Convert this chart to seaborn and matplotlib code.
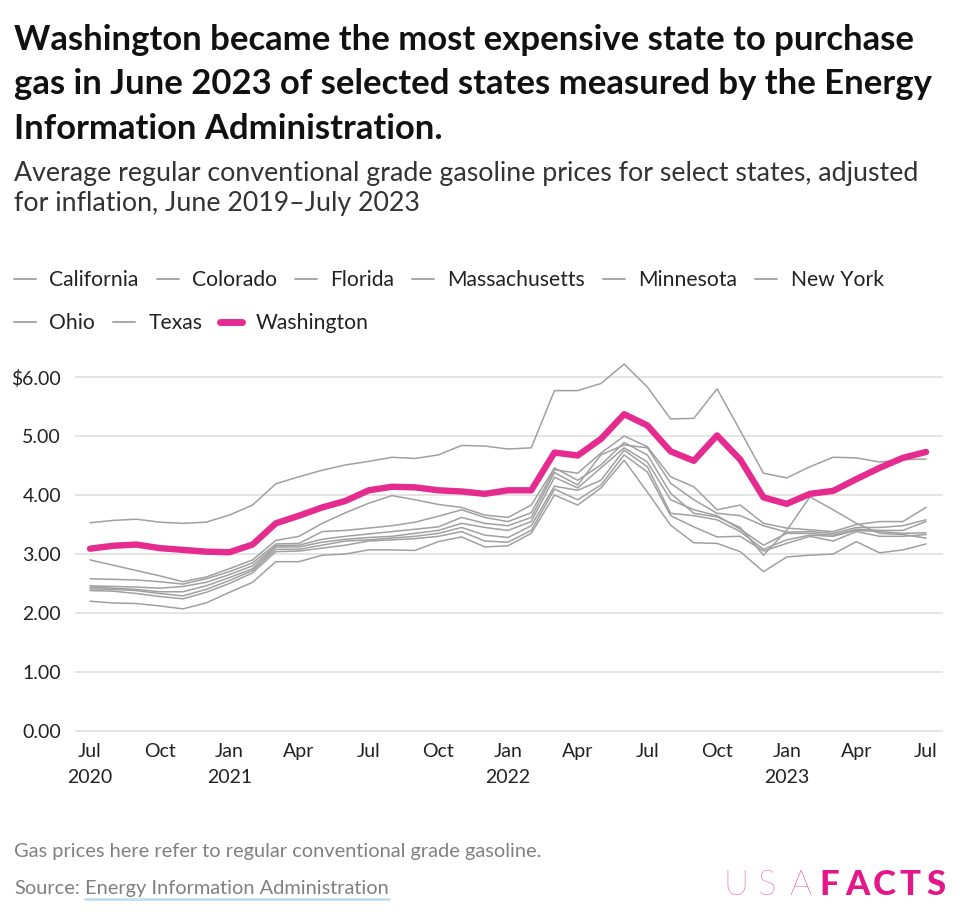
""" Gas prices by state, Washington highlighted """

import pandas as pd
import matplotlib
matplotlib.use("Agg")
import matplotlib.pyplot as plt
from matplotlib.lines import Line2D
import seaborn as sns

# Monthly prices, Jul 2020 - Jul 2023 (inflation adjusted, $/gal)
months = pd.date_range("2020-07-01", periods=37, freq="MS")

california = [3.53, 3.57, 3.59, 3.54, 3.52, 3.54,
              3.66, 3.83, 4.19, 4.31, 4.42, 4.51, 4.57, 4.64, 4.62, 4.68, 4.84, 4.83,
              4.78, 4.80, 5.77, 5.77, 5.89, 6.22, 5.83, 5.29, 5.30, 5.80, 5.09, 4.37,
              4.29, 4.48, 4.64, 4.63, 4.56, 4.60, 4.61]
colorado = [2.90, 2.81, 2.72, 2.63, 2.53, 2.61,
            2.75, 2.90, 3.23, 3.30, 3.52, 3.70, 3.86, 3.99, 3.92, 3.84, 3.79, 3.66,
            3.62, 3.83, 4.46, 4.25, 4.51, 4.89, 4.68, 4.03, 3.69, 3.63, 3.45, 2.98,
            3.40, 3.97, 3.75, 3.52, 3.35, 3.33, 3.27]
florida = [2.44, 2.42, 2.40, 2.36, 2.36, 2.46,
           2.60, 2.75, 3.12, 3.12, 3.20, 3.25, 3.28, 3.30, 3.35, 3.40, 3.52, 3.45,
           3.40, 3.55, 4.30, 4.12, 4.46, 4.80, 4.56, 3.92, 3.75, 3.65, 3.42, 3.15,
           3.35, 3.35, 3.32, 3.42, 3.40, 3.40, 3.55]
massachusetts = [2.46, 2.45, 2.44, 2.42, 2.45, 2.52,
                 2.65, 2.80, 3.14, 3.15, 3.25, 3.30, 3.34, 3.38, 3.42, 3.46, 3.62, 3.52,
                 3.48, 3.62, 4.38, 4.17, 4.68, 4.85, 4.80, 4.20, 3.92, 3.69, 3.65, 3.48,
                 3.37, 3.38, 3.35, 3.45, 3.45, 3.48, 3.58]
minnesota = [2.41, 2.40, 2.38, 2.33, 2.29, 2.40,
             2.55, 2.72, 3.08, 3.08, 3.15, 3.22, 3.24, 3.27, 3.30, 3.35, 3.45, 3.32,
             3.28, 3.48, 4.15, 4.08, 4.25, 4.76, 4.48, 3.69, 3.65, 3.58, 3.38, 3.08,
             3.24, 3.32, 3.30, 3.40, 3.38, 3.35, 3.36]
new_york = [2.58, 2.57, 2.56, 2.53, 2.49, 2.58,
            2.70, 2.85, 3.17, 3.18, 3.38, 3.40, 3.44, 3.48, 3.54, 3.64, 3.75, 3.62,
            3.55, 3.70, 4.43, 4.37, 4.71, 5.00, 4.82, 4.31, 4.14, 3.75, 3.83, 3.52,
            3.44, 3.41, 3.38, 3.50, 3.55, 3.55, 3.79]
ohio = [2.38, 2.37, 2.33, 2.28, 2.24, 2.35,
        2.50, 2.68, 3.04, 3.05, 3.10, 3.15, 3.22, 3.24, 3.26, 3.30, 3.38, 3.22,
        3.20, 3.40, 4.10, 3.92, 4.17, 4.68, 4.39, 3.65, 3.46, 3.29, 3.30, 3.05,
        3.18, 3.30, 3.22, 3.38, 3.30, 3.30, 3.33]
texas = [2.20, 2.17, 2.16, 2.12, 2.07, 2.17,
         2.35, 2.52, 2.87, 2.87, 2.98, 3.00, 3.07, 3.07, 3.06, 3.21, 3.29, 3.12,
         3.14, 3.35, 4.00, 3.83, 4.12, 4.59, 4.05, 3.49, 3.19, 3.18, 3.04, 2.70,
         2.95, 2.98, 3.00, 3.21, 3.02, 3.07, 3.17]
washington = [3.09, 3.14, 3.16, 3.10, 3.07, 3.04,
              3.03, 3.16, 3.52, 3.65, 3.79, 3.90, 4.08, 4.14, 4.13, 4.08, 4.06, 4.02,
              4.08, 4.08, 4.72, 4.67, 4.95, 5.37, 5.18, 4.74, 4.58, 5.01, 4.60, 3.96,
              3.85, 4.02, 4.07, 4.27, 4.46, 4.63, 4.73]

states = ["California", "Colorado", "Florida", "Massachusetts", "Minnesota",
          "New York", "Ohio", "Texas", "Washington"]
values = [california, colorado, florida, massachusetts, minnesota,
          new_york, ohio, texas, washington]

tick_pos = list(range(0, 37, 3))
tick_labels = ["Jul\n2020", "Oct", "Jan\n2021", "Apr", "Jul", "Oct", "Jan\n2022",
               "Apr", "Jul", "Oct", "Jan\n2023", "Apr", "Jul"]
y_ticks = [0, 1, 2, 3, 4, 5, 6]
y_labels = ["0.00", "1.00", "2.00", "3.00", "4.00", "5.00", "$6.00"]

# long form table
df = pd.concat([pd.DataFrame({"idx": range(len(months)), "month": months,
                              "state": s, "price": v})
                for s, v in zip(states, values)], ignore_index=True)

GRAY = "#a0a0a0"
PINK = "#e52b8f"
TEXT = "#222222"
LOGO = "#e4168a"
palette = {s: GRAY for s in states}
palette["Washington"] = PINK
sizes = {s: 1.1 for s in states}
sizes["Washington"] = 4.6

sns.set_theme(style="white")
plt.rcParams["font.family"] = ["Lato", "DejaVu Sans"]

fig = plt.figure(figsize=(9.6, 9.16), dpi=100)
ax = fig.add_axes([75 / 960, 0.2007, (943 - 75) / 960, 0.6077 - 0.2007])

sns.lineplot(data=df, x="idx", y="price", hue="state", hue_order=states,
             palette=palette, size="state", sizes=sizes, size_order=states,
             legend=False, ax=ax)
ax.lines[-1].set_solid_capstyle("round")
ax.lines[-1].set_solid_joinstyle("round")

ax.set_xlim(-0.646, 36.73)
ax.set_ylim(-0.02, 6.3)
ax.set_xticks(tick_pos)
ax.set_xticklabels(tick_labels, fontsize=14, color=TEXT, linespacing=1.6)
ax.set_yticks(y_ticks)
ax.set_yticklabels(y_labels, fontsize=14, color=TEXT)
ax.tick_params(axis="both", length=0)
ax.tick_params(axis="x", pad=8)
ax.tick_params(axis="y", pad=10)
ax.grid(axis="y", color="#dddddd", linewidth=1.1)
ax.set_axisbelow(True)
ax.set_xlabel("")
ax.set_ylabel("")
sns.despine(ax=ax, left=True, bottom=True)

# Title and subtitle
title_lines = ["Washington became the most expensive state to purchase",
               "gas in June 2023 of selected states measured by the Energy",
               "Information Administration."]
for i, line in enumerate(title_lines):
    fig.text(14 / 960, 1 - (50 + 44.5 * i) / 916, line, fontsize=24.9,
             fontweight="bold", color="#111111", va="baseline", ha="left")
sub_lines = ["Average regular conventional grade gasoline prices for select states, adjusted",
             "for inflation, June 2019\u2013July 2023"]
for i, line in enumerate(sub_lines):
    fig.text(14 / 960, 1 - (181 + 29.5 * i) / 916, line, fontsize=19.3,
             color="#333333", va="baseline", ha="left")

# Legend in two rows
def handle(s):
    if s == "Washington":
        return Line2D([], [], color=PINK, linewidth=5, solid_capstyle="round")
    return Line2D([], [], color=GRAY, linewidth=1.3)

row1 = states[:6]
row2 = states[6:]
leg_kw = dict(loc="center left", frameon=False, fontsize=15.2, handlelength=1.05,
              handletextpad=0.62, columnspacing=0.85, borderaxespad=0,
              borderpad=0, labelcolor=TEXT)
fig.legend([handle(s) for s in row1], row1, ncol=6,
           bbox_to_anchor=(14 / 960, 1 - 280 / 916), **leg_kw)
fig.legend([handle(s) for s in row2], row2, ncol=3,
           bbox_to_anchor=(14 / 960, 1 - 323 / 916), **leg_kw)

# Footer
fig.text(14 / 960, 1 - 857 / 916, "Gas prices here refer to regular conventional grade gasoline.",
         fontsize=14.4, color="#808080", va="baseline")
src = fig.text(14 / 960, 1 - 894 / 916, "Source:", fontsize=14.4, color="#808080",
               va="baseline")
fig.canvas.draw()
bb = src.get_window_extent()
link = fig.text((bb.x1 + 5) / 960, 1 - 894 / 916, "Energy Information Administration",
                fontsize=14.4, color="#808080", va="baseline")
fig.canvas.draw()
lb = link.get_window_extent()
fig.add_artist(Line2D([lb.x0 / 960, lb.x1 / 960], [1 - 899 / 916, 1 - 899 / 916],
                      color="#bfe0f2", linewidth=2))

# USAFACTS logo
for ch, xp in zip("USA", [723, 757, 789]):
    fig.text(xp / 960, 1 - 895 / 916, ch, fontsize=25, fontweight="light",
             color=LOGO, va="baseline")
for ch, xp in zip("FACTS", [819, 845, 873, 900, 926]):
    fig.text(xp / 960, 1 - 895 / 916, ch, fontsize=25, fontweight="black",
             color=LOGO, va="baseline")

fig.savefig("out.png", dpi=100)
